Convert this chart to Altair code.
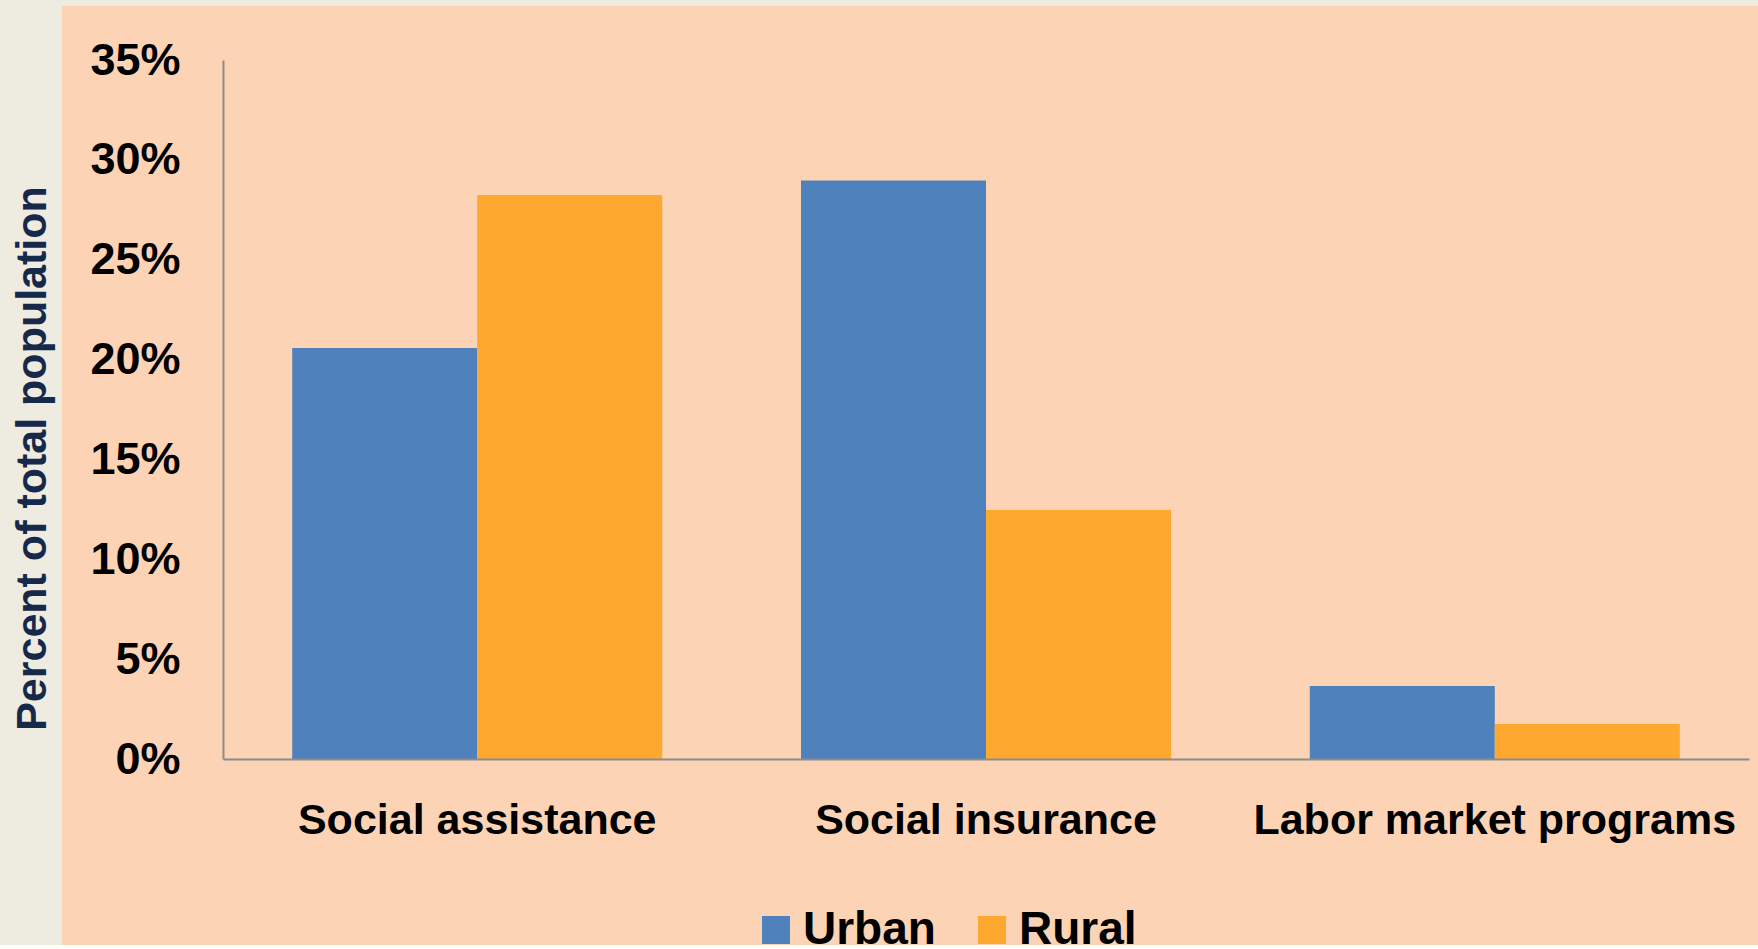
import altair as alt
import pandas as pd

categories = ["Social assistance", "Social insurance", "Labor market programs"]
groups = ["Urban", "Rural"]
urban = [0.2058, 0.2897, 0.0366]
rural = [0.2824, 0.1247, 0.0175]
y_ticks = [0, 0.05, 0.10, 0.15, 0.20, 0.25, 0.30, 0.35]

rows = []
for c, u, r in zip(categories, urban, rural):
    rows.append({"category": c, "group": "Urban", "value": u})
    rows.append({"category": c, "group": "Rural", "value": r})
df = pd.DataFrame(rows)

FONT = "Liberation Sans"
PEACH = "#FCD4B5"

bg = alt.Chart(pd.DataFrame({"k": [0]})).mark_rect(color=PEACH).encode(
    x=alt.value(-161), x2=alt.value(1560), y=alt.value(-54), y2=alt.value(920)
)

bars = alt.Chart(df).mark_bar().encode(
    x=alt.X("category:N", sort=categories,
            scale=alt.Scale(paddingInner=0.2727, paddingOuter=0.136),
            axis=alt.Axis(title=None, labelAngle=0, labelFontSize=43, labelFont=FONT,
                          labelFontWeight="bold", labelColor="#000000",
                          labelBaseline="alphabetic", labelPadding=74,
                          ticks=False, tickSize=0, domainColor="#8C8C8C",
                          domainWidth=2, labelLimit=600, zindex=1)),
    xOffset=alt.XOffset("group:N", sort=groups, scale=alt.Scale(paddingInner=0, paddingOuter=0)),
    y=alt.Y("value:Q", scale=alt.Scale(domain=[0, 0.35], nice=False),
            axis=alt.Axis(title="Percent of total population", values=y_ticks, format=".0%",
                          grid=False, ticks=False, tickSize=0, labelPadding=43,
                          labelFontSize=45, labelFont=FONT, labelFontWeight="bold",
                          labelColor="#000000", domainColor="#8C8C8C", domainWidth=2,
                          titleFont=FONT, titleFontSize=43, titleFontWeight="bold",
                          titleColor="#17294A", titleAngle=-90, titleAlign="center",
                          titleBaseline="alphabetic", titleX=-178, titleY=398, zindex=1)),
    color=alt.Color("group:N", sort=groups,
                    scale=alt.Scale(domain=groups, range=["#4F81BD", "#FFA82F"]),
                    legend=alt.Legend(title=None, orient="none", direction="horizontal",
                                      legendX=530, legendY=847, symbolType="square",
                                      symbolSize=784, symbolStrokeWidth=0, symbolOpacity=1,
                                      labelFont=FONT, labelFontSize=46, labelFontWeight="bold",
                                      labelColor="#000000", labelOffset=4, columnPadding=33,
                                      zindex=1)),
)

chart = alt.layer(bg, bars).properties(
    width=1526, height=699,
    autosize=alt.AutoSizeParams(type="none"),
    padding={"left": 223, "top": 60, "right": 9, "bottom": 186},
    background="#EEEBE1",
).configure_view(stroke=None)

chart.save("out.html", embed_options={"renderer": "svg", "actions": False})
